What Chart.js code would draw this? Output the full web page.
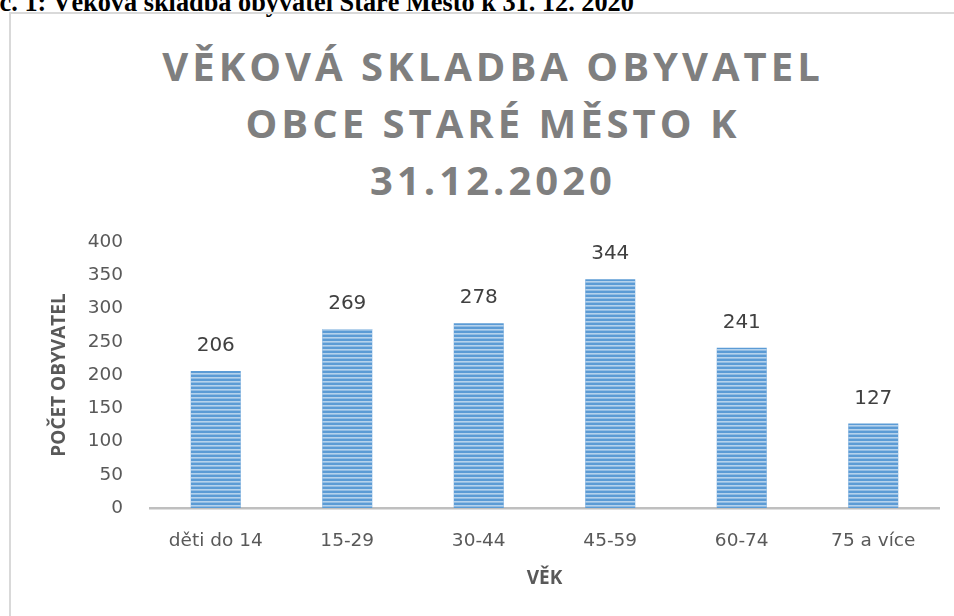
<!DOCTYPE html>
<html>
<head>
<meta charset="utf-8">
<script src="https://cdn.jsdelivr.net/npm/chart.js@4"></script>
<style>
  html, body { margin: 0; padding: 0; background: #fff; }
  #wrap { position: relative; width: 954px; height: 616px; overflow: hidden; }
  #caption {
    position: absolute; left: -61px; top: -12px; white-space: nowrap;
    font-family: "Liberation Serif", serif; font-weight: bold; font-size: 26.3px; color: #000;
  }
  #frame {
    position: absolute; left: 9px; top: 12px; width: 1000px; height: 700px;
    border: 2px solid #d9d9d9; box-sizing: border-box;
  }
  #title {
    position: absolute; left: 4px; width: 978px; top: 37px; text-align: center;
    font-family: "Open Sans", sans-serif; font-weight: bold; font-size: 40px;
    line-height: 57px; letter-spacing: 4px; color: #7f7f7f;
  }
  #chart { position: absolute; left: 0; top: 0; }
</style>
</head>
<body>
<div id="wrap">
  <div id="caption">Graf č. 1: Věková skladba obyvatel Staré Město k 31. 12. 2020</div>
  <div id="frame"></div>
  <div id="title">VĚKOVÁ SKLADBA OBYVATEL<br>OBCE STARÉ MĚSTO K<br>31.12.2020</div>
  <canvas id="chart" width="954" height="616"></canvas>
</div>
<script>
// data
var ageGroups = ["děti do 14", "15-29", "30-44", "45-59", "60-74", "75 a více"];
var residents = [206, 269, 278, 344, 241, 127];
var yTicks = [0, 50, 100, 150, 200, 250, 300, 350, 400];

var tickFont = { family: "DejaVu Sans", size: 18.5 };

// horizontal gradient per bar (darker edges, lighter middle)
function barFill(ctx) {
    var el = ctx.element;
    var c = ctx.chart.ctx;
    if (!el || el.x == undefined) return '#5b9bd5';
    var half = el.width / 2;
    var g = c.createLinearGradient(el.x - half, 0, el.x + half, 0);
    g.addColorStop(0, '#5b9bd5');
    g.addColorStop(0.5, '#9cc2ea');
    g.addColorStop(1, '#5b9bd5');
    return g;
}

// stripes over bars + value labels
var barDecor = {
    id: 'barDecor',
    afterDatasetsDraw: function (chart) {
        var c = chart.ctx;
        var meta = chart.getDatasetMeta(0);
        meta.data.forEach(function (bar, i) {
            var half = bar.width / 2;
            var top = bar.y, bottom = bar.base;
            c.save();
            c.beginPath();
            c.rect(bar.x - half, top, bar.width, bottom - top);
            c.clip();
            c.fillStyle = 'rgba(255,255,255,0.55)';
            for (var y = bottom - 3; y > top - 4; y -= 4) {
                c.fillRect(bar.x - half, y, bar.width, 1.6);
            }
            c.restore();

            c.save();
            c.fillStyle = '#404040';
            c.font = '20px "DejaVu Sans"';
            c.textAlign = 'center';
            c.textBaseline = 'middle';
            c.fillText(String(residents[i]), bar.x, bar.y - 25);
            c.restore();
        });
    }
};

new Chart(document.getElementById('chart'), {
    type: 'bar',
    data: {
        labels: ageGroups,
        datasets: [{
            data: residents,
            backgroundColor: barFill,
            borderWidth: 0,
            barPercentage: 0.38,
            categoryPercentage: 1
        }]
    },
    options: {
        responsive: false,
        animation: false,
        layout: { padding: { left: 10, right: 15, top: 242, bottom: 0 } },
        plugins: { legend: { display: false }, tooltip: { enabled: false } },
        scales: {
            x: {
                grid: { display: false, drawTicks: false },
                border: { display: true, color: '#bfbfbf', width: 2.5 },
                ticks: { color: '#595959', font: tickFont, padding: 22, maxRotation: 0 },
                title: {
                    display: true, text: 'VĚK', color: '#595959',
                    font: { family: "Open Sans", size: 19, weight: 'bold' }, padding: 26
                },
                afterFit: function (scale) { scale.height = 108; }
            },
            y: {
                min: 0, max: 400,
                afterBuildTicks: function (scale) {
                    scale.ticks = yTicks.map(function (v) { return { value: v }; });
                },
                grid: { display: false, drawTicks: false },
                border: { display: false },
                ticks: { color: '#595959', font: tickFont, padding: 27 },
                title: {
                    display: true, text: 'POČET OBYVATEL', color: '#595959',
                    font: { family: "Open Sans", size: 19, weight: 'bold' }, padding: 38
                },
                afterFit: function (scale) { scale.width = 140; }
            }
        }
    },
    plugins: [barDecor]
});
</script>
</body>
</html>
